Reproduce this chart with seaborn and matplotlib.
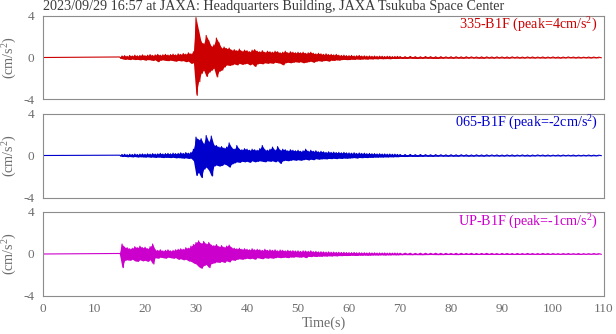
import numpy as np
import matplotlib
matplotlib.use("Agg")
import matplotlib.pyplot as plt
from matplotlib.ticker import MultipleLocator
import seaborn as sns

TITLE = "2023/09/29 16:57 at JAXA: Headquarters Building, JAXA Tsukuba Space Center"
channels = ["335-B1F", "065-B1F", "UP-B1F"]
peaks = [4, -2, -1]
colors = ["#cc0000", "#0000cc", "#cc00cc"]
x_ticks = [0, 10, 20, 30, 40, 50, 60, 70, 80, 90, 100, 110]
y_ticks = [-4, 0, 4]

# Decimated record: per sample window the maximum and minimum acceleration (cm/s^2).
# Windows are 0.5 s wide from 15 s to 70 s, then 1 s wide up to 110 s.
win_fine = np.arange(15.0, 70.0, 0.5)
win_coarse = np.arange(70.0, 110.0, 1.0)

ch335_max = [
    0.05, 0.15, 0.18, 0.12, 0.20, 0.15, 0.22, 0.16, 0.20, 0.25,
    0.18, 0.22, 0.28, 0.20, 0.25, 0.30, 0.22, 0.26, 0.30, 0.24,
    0.28, 0.32, 0.25, 0.35, 0.30, 0.38, 0.32, 0.45, 0.35, 0.55,
    3.80, 2.60, 1.50, 1.30, 2.10, 1.60, 1.05, 1.20, 1.85, 1.40,
    0.90, 1.00, 0.85, 0.90, 0.70, 0.75, 0.65, 0.80, 0.60, 0.70,
    0.65, 0.55, 0.70, 0.75, 0.60, 0.55, 0.65, 0.50, 0.60, 0.55,
    0.50, 0.60, 0.55, 0.45, 0.50, 0.60, 0.45, 0.55, 0.50, 0.45,
    0.50, 0.45, 0.50, 0.40, 0.45, 0.50, 0.40, 0.35, 0.40, 0.35,
    0.30, 0.35, 0.28, 0.30, 0.25, 0.30, 0.22, 0.20, 0.22, 0.18,
    0.18, 0.20, 0.15, 0.17, 0.20, 0.14, 0.16, 0.13, 0.15, 0.12,
    0.14, 0.11, 0.13, 0.12, 0.10, 0.12, 0.11, 0.09, 0.10, 0.11,
    0.09, 0.08, 0.10, 0.08, 0.07, 0.09, 0.08, 0.07, 0.08, 0.06,
    0.07, 0.07, 0.06, 0.07, 0.06, 0.05, 0.06, 0.06, 0.05, 0.06,
    0.05, 0.05, 0.06, 0.05, 0.04, 0.05, 0.05, 0.04, 0.05, 0.04,
    0.05, 0.04, 0.04, 0.05, 0.04, 0.04, 0.03, 0.04, 0.04, 0.03,
]
ch335_min = [
    -0.05, -0.12, -0.18, -0.15, -0.20, -0.14, -0.20, -0.18, -0.22, -0.18,
    -0.25, -0.20, -0.22, -0.28, -0.22, -0.40, -0.25, -0.22, -0.28, -0.30,
    -0.25, -0.30, -0.35, -0.28, -0.32, -0.30, -0.40, -0.35, -0.55, -0.50,
    -3.60, -2.30, -1.50, -1.20, -1.80, -1.40, -1.20, -1.00, -1.85, -1.30,
    -1.20, -0.90, -0.70, -0.75, -0.70, -0.60, -0.70, -0.55, -0.65, -0.60,
    -0.55, -0.70, -0.60, -0.85, -0.60, -0.55, -0.60, -0.50, -0.55, -0.50,
    -0.55, -0.45, -0.50, -0.55, -0.70, -0.50, -0.45, -0.50, -0.45, -0.40,
    -0.45, -0.40, -0.50, -0.45, -0.40, -0.35, -0.45, -0.35, -0.30, -0.35,
    -0.30, -0.28, -0.35, -0.25, -0.28, -0.22, -0.25, -0.20, -0.18, -0.20,
    -0.20, -0.16, -0.18, -0.14, -0.17, -0.15, -0.13, -0.16, -0.12, -0.14,
    -0.11, -0.13, -0.10, -0.12, -0.11, -0.10, -0.12, -0.09, -0.10, -0.09,
    -0.08, -0.09, -0.07, -0.09, -0.08, -0.07, -0.08, -0.09, -0.07, -0.06,
    -0.07, -0.06, -0.07, -0.06, -0.05, -0.06, -0.07, -0.05, -0.06, -0.05,
    -0.05, -0.06, -0.04, -0.05, -0.05, -0.04, -0.05, -0.04, -0.05, -0.04,
    -0.04, -0.05, -0.04, -0.03, -0.04, -0.04, -0.03, -0.04, -0.03, -0.03,
]

ch065_max = [
    0.03, 0.10, 0.12, 0.08, 0.12, 0.10, 0.14, 0.10, 0.13, 0.15,
    0.12, 0.16, 0.13, 0.18, 0.14, 0.16, 0.20, 0.15, 0.18, 0.20,
    0.16, 0.22, 0.18, 0.20, 0.25, 0.20, 0.28, 0.22, 0.30, 0.60,
    1.75, 1.50, 1.60, 1.10, 1.90, 1.30, 1.85, 1.00, 0.95, 0.80,
    0.85, 0.70, 0.80, 1.20, 0.75, 0.60, 0.95, 0.60, 0.55, 0.65,
    0.60, 0.50, 0.60, 0.55, 0.50, 0.65, 0.95, 0.55, 0.50, 0.60,
    0.80, 0.50, 0.85, 0.50, 0.60, 0.55, 0.45, 0.55, 0.50, 0.45,
    0.50, 0.40, 0.45, 0.60, 0.40, 0.50, 0.40, 0.45, 0.35, 0.40,
    0.35, 0.30, 0.35, 0.30, 0.32, 0.28, 0.30, 0.26, 0.30, 0.25,
    0.25, 0.22, 0.26, 0.20, 0.24, 0.20, 0.22, 0.18, 0.20, 0.17,
    0.18, 0.15, 0.17, 0.14, 0.15, 0.13, 0.14, 0.12, 0.13, 0.11,
    0.10, 0.09, 0.10, 0.08, 0.09, 0.08, 0.07, 0.08, 0.07, 0.06,
    0.07, 0.06, 0.07, 0.06, 0.05, 0.06, 0.05, 0.06, 0.05, 0.05,
    0.04, 0.05, 0.05, 0.04, 0.05, 0.04, 0.04, 0.05, 0.04, 0.04,
    0.03, 0.04, 0.04, 0.03, 0.04, 0.03, 0.03, 0.04, 0.03, 0.03,
]
ch065_min = [
    -0.03, -0.10, -0.08, -0.12, -0.10, -0.13, -0.10, -0.14, -0.12, -0.13,
    -0.15, -0.12, -0.16, -0.14, -0.18, -0.15, -0.16, -0.20, -0.17, -0.18,
    -0.20, -0.17, -0.22, -0.20, -0.22, -0.25, -0.22, -0.28, -0.25, -0.50,
    -1.90, -1.60, -2.10, -1.30, -1.10, -1.40, -1.95, -1.00, -0.90, -1.00,
    -0.95, -0.80, -0.90, -1.10, -0.80, -0.70, -0.60, -0.65, -0.55, -0.60,
    -0.55, -0.65, -0.50, -0.60, -0.55, -0.50, -0.55, -0.60, -0.50, -0.55,
    -0.50, -0.60, -0.50, -0.75, -0.50, -0.45, -0.50, -0.45, -0.40, -0.45,
    -0.40, -0.45, -0.40, -0.35, -0.42, -0.35, -0.40, -0.30, -0.35, -0.32,
    -0.30, -0.32, -0.28, -0.30, -0.26, -0.30, -0.25, -0.28, -0.24, -0.26,
    -0.24, -0.22, -0.20, -0.24, -0.19, -0.21, -0.18, -0.20, -0.17, -0.18,
    -0.15, -0.16, -0.14, -0.15, -0.13, -0.14, -0.12, -0.13, -0.11, -0.12,
    -0.09, -0.10, -0.08, -0.09, -0.08, -0.07, -0.08, -0.07, -0.06, -0.07,
    -0.06, -0.07, -0.05, -0.06, -0.06, -0.05, -0.06, -0.05, -0.04, -0.05,
    -0.05, -0.04, -0.05, -0.04, -0.04, -0.05, -0.04, -0.03, -0.04, -0.04,
    -0.03, -0.04, -0.03, -0.03, -0.04, -0.03, -0.03, -0.03, -0.03, -0.02,
]

chUP_max = [
    0.05, 0.95, 0.65, 0.60, 0.50, 0.55, 0.70, 0.60, 0.75, 0.60,
    0.65, 0.50, 0.70, 0.95, 0.40, 0.35, 0.40, 0.30, 0.35, 0.40,
    0.30, 0.35, 0.40, 0.45, 0.50, 0.45, 0.60, 0.55, 0.75, 0.90,
    1.10, 1.25, 1.00, 1.20, 0.95, 1.10, 0.85, 0.80, 0.90, 0.70,
    0.80, 0.65, 0.75, 0.85, 0.60, 0.55, 0.50, 0.55, 0.45, 0.50,
    0.45, 0.40, 0.50, 0.40, 0.45, 0.40, 0.35, 0.45, 0.35, 0.40,
    0.35, 0.40, 0.30, 0.38, 0.35, 0.30, 0.35, 0.30, 0.32, 0.28,
    0.30, 0.25, 0.30, 0.28, 0.25, 0.30, 0.22, 0.25, 0.20, 0.22,
    0.20, 0.18, 0.20, 0.17, 0.18, 0.16, 0.17, 0.15, 0.16, 0.14,
    0.14, 0.13, 0.15, 0.12, 0.13, 0.11, 0.12, 0.10, 0.12, 0.10,
    0.11, 0.09, 0.10, 0.09, 0.10, 0.08, 0.09, 0.08, 0.09, 0.08,
    0.07, 0.08, 0.07, 0.06, 0.07, 0.07, 0.06, 0.07, 0.06, 0.06,
    0.05, 0.06, 0.06, 0.05, 0.06, 0.05, 0.05, 0.06, 0.05, 0.04,
    0.05, 0.05, 0.04, 0.05, 0.04, 0.05, 0.04, 0.04, 0.05, 0.04,
    0.04, 0.03, 0.04, 0.04, 0.03, 0.04, 0.03, 0.03, 0.04, 0.03,
]
chUP_min = [
    -0.05, -1.30, -0.60, -0.55, -0.60, -0.50, -0.65, -0.70, -0.55, -0.65,
    -0.60, -0.70, -0.55, -0.95, -0.35, -0.40, -0.30, -0.35, -0.40, -0.30,
    -0.35, -0.40, -0.35, -0.50, -0.45, -0.55, -0.50, -0.65, -0.70, -0.85,
    -0.95, -1.20, -1.35, -1.10, -1.00, -1.30, -0.90, -0.85, -0.75, -0.80,
    -0.70, -0.80, -0.65, -0.75, -0.55, -0.60, -0.50, -0.45, -0.50, -0.45,
    -0.40, -0.45, -0.40, -0.50, -0.35, -0.40, -0.45, -0.35, -0.40, -0.35,
    -0.40, -0.35, -0.30, -0.35, -0.32, -0.30, -0.35, -0.28, -0.30, -0.25,
    -0.28, -0.30, -0.25, -0.35, -0.22, -0.25, -0.20, -0.24, -0.20, -0.22,
    -0.18, -0.20, -0.17, -0.19, -0.16, -0.18, -0.15, -0.16, -0.14, -0.15,
    -0.14, -0.12, -0.13, -0.14, -0.11, -0.12, -0.10, -0.12, -0.11, -0.10,
    -0.09, -0.10, -0.09, -0.08, -0.10, -0.08, -0.09, -0.07, -0.08, -0.08,
    -0.07, -0.06, -0.07, -0.06, -0.07, -0.06, -0.05, -0.06, -0.06, -0.05,
    -0.05, -0.06, -0.05, -0.04, -0.05, -0.05, -0.04, -0.05, -0.04, -0.05,
    -0.04, -0.04, -0.05, -0.04, -0.04, -0.03, -0.04, -0.04, -0.03, -0.04,
    -0.03, -0.04, -0.03, -0.03, -0.03, -0.04, -0.03, -0.03, -0.02, -0.03,
]

records = [(ch335_max, ch335_min), (ch065_max, ch065_min), (chUP_max, chUP_min)]

win_start = np.concatenate([win_fine, win_coarse])
win_width = np.concatenate([np.full(win_fine.size, 0.5), np.full(win_coarse.size, 1.0)])


def trace(vmax, vmin):
    """Min/max decimated trace: the max at the window start, the min half a window later."""
    t = np.empty(2 * win_start.size)
    a = np.empty(2 * win_start.size)
    t[0::2], t[1::2] = win_start, win_start + win_width / 2
    a[0::2], a[1::2] = vmax, vmin
    # quiet record before the onset
    return np.concatenate([[0.0], t]), np.concatenate([[0.0], a])


sns.set_style("white")
plt.rcParams["font.family"] = ["Liberation Serif", "DejaVu Serif"]
plt.rcParams["mathtext.fontset"] = "custom"
plt.rcParams["mathtext.rm"] = "Liberation Serif"
plt.rcParams["mathtext.it"] = "Liberation Serif:italic"
plt.rcParams["axes.unicode_minus"] = False

W, H = 616, 334
fig = plt.figure(figsize=(W / 100, H / 100), dpi=100)

frame = "#8c8c8c"
txt = "#6e6e6e"
left, width, height = 43 / W, 561 / W, 84 / H
bottoms = [1 - 99.5 / H, 1 - 197.5 / H, 1 - 296 / H]

axes = []
for i, (ch, pk, col, (vmax, vmin)) in enumerate(zip(channels, peaks, colors, records)):
    ax = fig.add_axes([left, bottoms[i], width, height])
    # shaded band between window extremes, with the decimated trace drawn over it
    ax.fill_between(win_start, vmax, vmin, color=col, linewidth=0)
    tt, aa = trace(vmax, vmin)
    sns.lineplot(x=tt, y=aa, ax=ax, color=col, linewidth=0.8,
                 estimator=None, sort=False, legend=False)
    ax.set_xlim(0, 110)
    ax.set_ylim(-4, 4)
    ax.set_xticks(x_ticks)
    ax.set_yticks(y_ticks)
    ax.xaxis.set_minor_locator(MultipleLocator(2))
    ax.yaxis.set_minor_locator(MultipleLocator(1))
    ax.tick_params(which="major", direction="out", length=3.4, width=0.7,
                   color=frame, labelcolor=txt, labelsize=9.5, pad=2)
    ax.tick_params(which="minor", direction="out", length=2.0, width=0.7, color=frame)
    ax.tick_params(axis="y", pad=3)
    for s in ax.spines.values():
        s.set_visible(True)
        s.set_color(frame)
        s.set_linewidth(0.8)
    ax.set_xlabel("")
    ax.set_ylabel("")
    if i < 2:
        ax.tick_params(labelbottom=False)
    ax.text(0.989, 0.885, f"{ch} (peak={pk}cm/s$^{{2}}$)", transform=ax.transAxes,
            ha="right", va="center", color=col, fontsize=10.2)
    fig.text(9.5 / W, bottoms[i] + height / 2, "(cm/s$^{2}$)", rotation=90,
             ha="center", va="center", color=txt, fontsize=10.2)
    axes.append(ax)

axes[-1].set_xlabel("Time(s)", color=txt, fontsize=10.2, labelpad=1)
fig.text(left, 1 - 6.5 / H, TITLE, ha="left", va="center", color="#3a3a3a", fontsize=10.2)

fig.savefig("out.png", dpi=100)
